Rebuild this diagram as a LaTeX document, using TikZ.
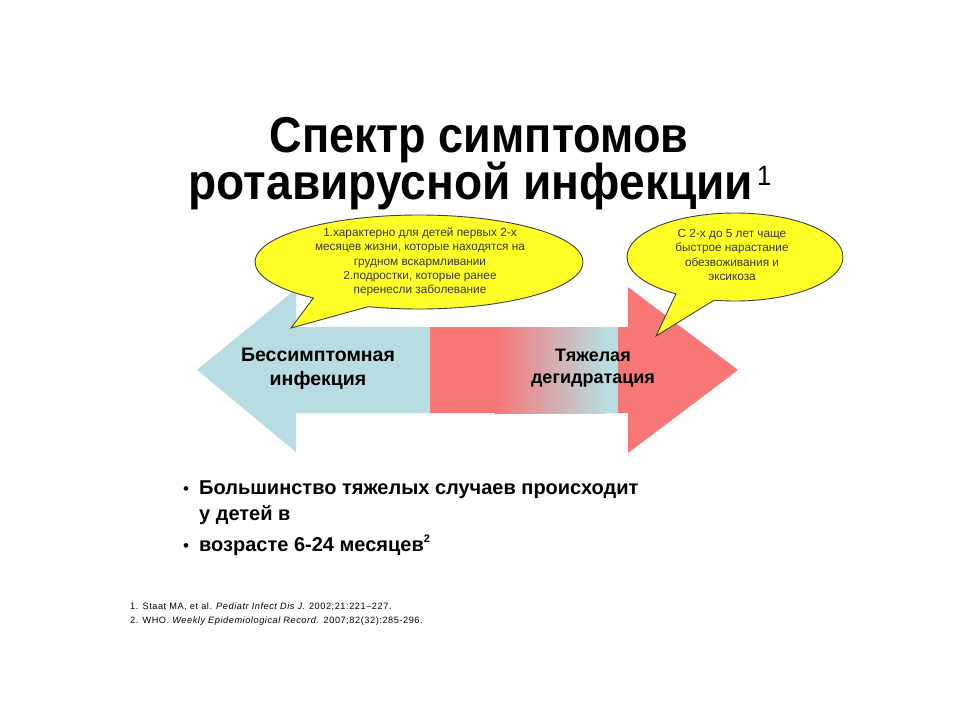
\documentclass[tikz,border=0pt]{standalone}
\usepackage{fontspec}
\setmainfont{Liberation Sans}
\usetikzlibrary{shapes.callouts,shapes.geometric}
\definecolor{arrblue}{RGB}{183,221,226}
\definecolor{arrred}{RGB}{247,118,118}
\definecolor{bubblefill}{RGB}{255,255,40}
\definecolor{bubbletext}{RGB}{55,55,55}
\tikzset{
  bubble/.style={ellipse callout, draw=black!75, line width=0.9pt, fill=bubblefill, inner sep=0pt, callout pointer arc=22},
  bubbletxt/.style={align=center, text=bubbletext, inner sep=0pt, font=\fontsize{11.8}{14.2}\selectfont},
  titletxt/.style={anchor=base, inner sep=0pt, font=\bfseries\fontsize{45}{45}\selectfont},
  arrtxt/.style={align=center, inner sep=0pt, font=\bfseries\fontsize{19.5}{24}\selectfont},
  bullettxt/.style={anchor=base west, inner sep=0pt, font=\bfseries\fontsize{20}{20}\selectfont},
  dot/.style={anchor=base, inner sep=0pt, font=\fontsize{17}{17}\selectfont},
  reftxt/.style={anchor=base west, inner sep=0pt, font=\fontsize{9.2}{9.2}\selectfont\addfontfeature{LetterSpace=6}},
}
\begin{document}
\begin{tikzpicture}[x=1pt,y=-1pt]
\useasboundingbox[fill=white] (0,0) rectangle (960,720);
% title
\node[titletxt] (t1) at (479,152) {\scalebox{1}[1.12]{Спектр симптомов}};
\node[titletxt] (t2) at (480,199) {\scalebox{1.024}[1.12]{ротавирусной инфекции\hspace{4pt}\raisebox{0.26em}{\mdseries\fontsize{25}{25}\selectfont 1}}};
% left (blue) arrow
\fill[arrblue] (197,370) -- (296,289) -- (296,327) -- (620,327) -- (620,413) -- (296,413) -- (296,452) -- cycle;
% gradient part
\fill[arrred] (430,327) rectangle (497,413);
\begin{scope}
  \clip (495,327) rectangle (606,413);
  \shade[left color=arrred, right color=arrblue] (495,320) rectangle (606,420);
\end{scope}
% right (red) arrow
\fill[arrred] (618,327) -- (628,327) -- (628,287) -- (738,370) -- (628,453) -- (628,413) -- (618,413) -- cycle;
% arrow labels
\node[arrtxt] (a1) at (318,369) {Бессимптомная\\инфекция};
\node[arrtxt, font=\bfseries\fontsize{18}{22}\selectfont] (a2) at (593,368) {Тяжелая\\дегидратация};
% callouts
\node[bubble, minimum width=328pt, minimum height=94pt, callout absolute pointer={(291,328)}] (c1) at (419,262) {};
\node[bubbletxt] (c1t) at (420,262) {1.характерно для детей первых 2-х\\месяцев жизни, которые находятся на\\грудном вскармливании\\2.подростки, которые ранее\\перенесли заболевание};
\node[bubble, minimum width=216pt, minimum height=88pt, callout absolute pointer={(656,336)}] (c2) at (735,257) {};
\node[bubbletxt] (c2t) at (732,255) {С 2-х до 5 лет чаще\\быстрое нарастание\\обезвоживания и\\эксикоза};
% bullets
\node[dot] (d1) at (186,494) {•};
\node[bullettxt] (b1) at (199,494) {Большинство тяжелых случаев происходит};
\node[bullettxt] (b2) at (199,520) {у детей в};
\node[dot] (d3) at (186,551) {•};
\node[bullettxt] (b3) at (199,551) {возрасте 6-24 месяцев\raisebox{0.45em}{\fontsize{11}{11}\selectfont 2}};
% references
\node[reftxt] (r1) at (130,609) {1. Staat MA, et al. \textit{Pediatr Infect Dis J.} 2002;21:221–227.};
\node[reftxt] (r2) at (130,623) {2. WHO. \textit{Weekly Epidemiological Record.} 2007;82(32):285-296.};
\end{tikzpicture}
\end{document}
